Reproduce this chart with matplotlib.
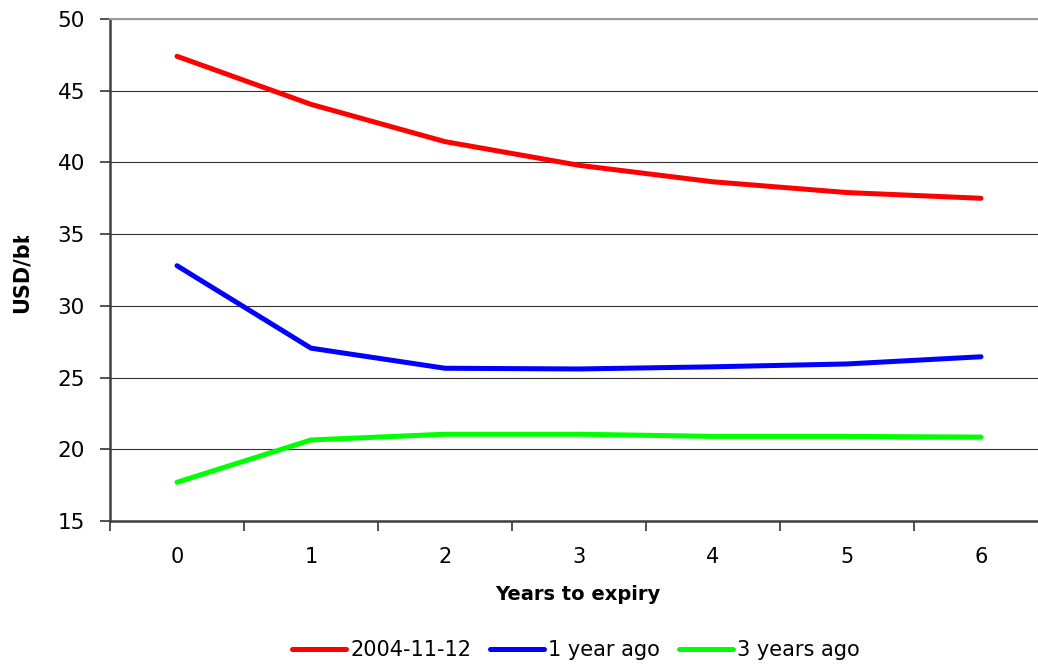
import numpy as np
import matplotlib
matplotlib.use("Agg")
import matplotlib.pyplot as plt
from matplotlib.transforms import Bbox

plt.rcParams["font.family"] = ["DejaVu Sans"]

years = [0, 1, 2, 3, 4, 5, 6]
curve_now = [47.4, 44.05, 41.45, 39.8, 38.65, 37.9, 37.5]
curve_1y = [32.8, 27.05, 25.65, 25.6, 25.75, 25.95, 26.45]
curve_3y = [17.7, 20.65, 21.05, 21.05, 20.9, 20.9, 20.85]
labels = ["2004-11-12", "1 year ago", "3 years ago"]
colors = ["#FF0000", "#0000FF", "#00FF00"]

W, H = 1038, 666
fig = plt.figure(figsize=(W / 100, H / 100), dpi=100)
# plot area runs past the right edge of the picture, as in the source
ax = fig.add_axes([110 / W, (H - 521) / H, 938 / W, 502 / H])

x = np.arange(len(years))
for ys, lab, c in zip([curve_now, curve_1y, curve_3y], labels, colors):
    ax.plot(x, ys, color=c, lw=3.6, label=lab, solid_capstyle="round",
            solid_joinstyle="round")

ax.set_xlim(-0.5, len(years) - 0.5)
ax.set_ylim(15, 50)
ax.set_yticks(np.arange(15, 51, 5))
ax.set_xticks(x)
ax.set_xticklabels([str(v) for v in years])
ax.set_xticks(np.arange(-0.5, len(years), 1), minor=True)
ax.tick_params(axis="x", which="major", length=0, pad=19, labelsize=15)
ax.tick_params(axis="x", which="minor", length=7, width=1.2, color="#333333")
ax.tick_params(axis="y", length=7, width=1.2, color="#333333", pad=11,
               labelsize=15.5)
ax.grid(axis="y", color="#333333", lw=0.8)
ax.set_axisbelow(True)

for s in ["left", "bottom"]:
    ax.spines[s].set_color("#404040")
    ax.spines[s].set_linewidth(1.8)
ax.spines["top"].set_color("#999999")
ax.spines["top"].set_linewidth(1.5)
ax.spines["right"].set_visible(False)

ax.text(578 / W, (H - 594) / H, "Years to expiry", transform=fig.transFigure,
        ha="center", va="center", fontsize=14, fontweight="bold")

# y label is cut off at the top in the original
yl = fig.text(22 / W, (H - 313) / H, "USD/bbl", rotation=90,
              rotation_mode="anchor", ha="left", va="center",
              fontsize=15, fontweight="bold")
yl.set_clip_box(Bbox([[0, 0], [200, H - 236]]))
yl.set_clip_on(True)

fig.legend(loc="center", bbox_to_anchor=(576 / W, (H - 650) / H), ncol=3,
           frameon=False, fontsize=15, handlelength=2.6, handletextpad=0.2,
           columnspacing=0.9, borderaxespad=0)

fig.savefig("out.png", dpi=100)
